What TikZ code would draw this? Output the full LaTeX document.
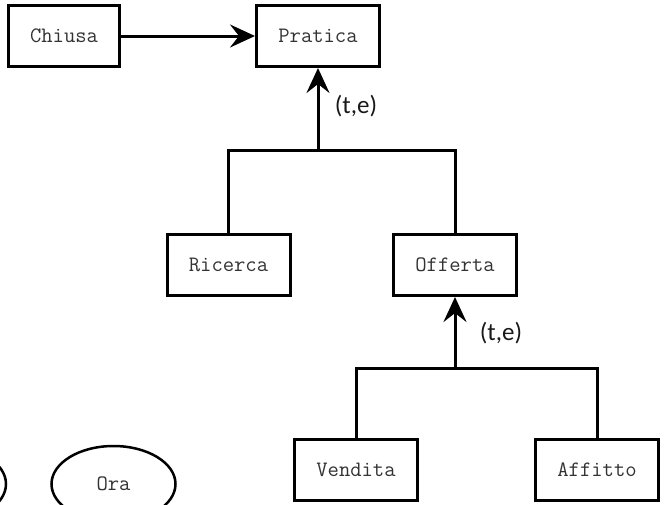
\documentclass[tikz,border=0pt]{standalone}
\usepackage{fontspec}
\newfontfamily\labelfont{Carlito}
\usetikzlibrary{arrows.meta,shapes.geometric}
\tikzset{
  entity/.style={draw, line width=3pt, minimum width=123pt, minimum height=61pt,
    inner sep=0pt, font=\ttfamily\fontsize{22}{26}\selectfont, text=black!80},
  attr/.style={draw, ellipse, line width=2.5pt, minimum width=124pt, minimum height=76pt,
    inner sep=0pt, font=\ttfamily\fontsize{22}{26}\selectfont, text=black!80},
  link/.style={line width=3pt},
  isa/.style={line width=3pt, -{Stealth[length=25pt,width=23pt,inset=9pt]}},
  card/.style={font=\labelfont\fontsize{25}{30}\selectfont, inner sep=0pt, text=black!90}
}
\begin{document}
\begin{tikzpicture}[x=1pt,y=-1pt]
  \useasboundingbox (0,0) rectangle (664,504);

  % entities
  \node[entity, minimum width=111pt] (chiusa) at (64,36) {Chiusa};
  \node[entity] (pratica) at (318,36) {Pratica};
  \node[entity] (ricerca) at (228.5,265) {Ricerca};
  \node[entity] (offerta) at (455,265) {Offerta};
  \node[entity] (vendita) at (356,469.5) {Vendita};
  \node[entity] (affitto) at (597,470) {Affitto};

  % attributes along the bottom edge
  \node[attr] (left) at (-56,484) {};
  \node[attr] (ora) at (113.5,484) {Ora};

  % junction points of the generalisations
  \coordinate (j1) at (318,150);
  \coordinate (j2) at (455,368);

  % Chiusa -> Pratica
  \draw[isa] (chiusa.east) -- (pratica.west);

  % Pratica specialised into Ricerca / Offerta
  \draw[link] (ricerca.north) |- (j1) -| (offerta.north);
  \draw[isa] (j1) -- (pratica.south);
  \node[card] (te1) at (356,106) {(t,e)};

  % Offerta specialised into Vendita / Affitto
  \draw[link] (vendita.north) |- (j2) -| (affitto.north);
  \draw[isa] (j2) -- (offerta.south);
  \node[card] (te2) at (501,333) {(t,e)};
\end{tikzpicture}
\end{document}
